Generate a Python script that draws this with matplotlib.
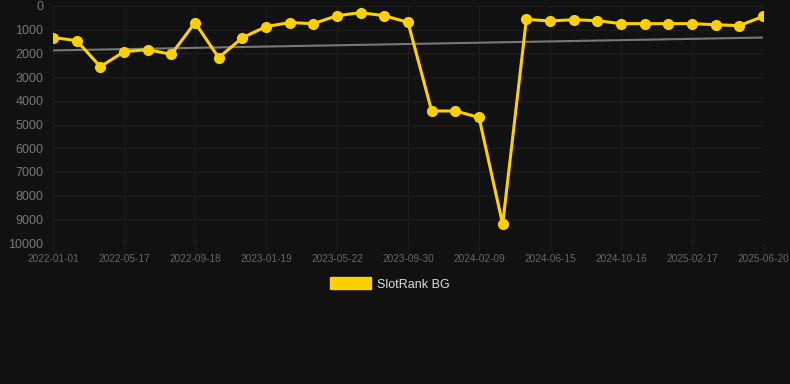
import matplotlib.pyplot as plt
import numpy as np

# rank values, one point per sample (lower is better, axis inverted)
ranks = [1330, 1460, 2560, 1930, 1840, 2040, 700, 2180, 1340, 870,
         700, 745, 410, 280, 410, 690, 4430, 4430, 4700, 9210,
         565, 630, 580, 620, 745, 745, 745, 745, 790, 830, 440]
tick_labels = ["2022-01-01", "2022-05-17", "2022-09-18", "2023-01-19",
               "2023-05-22", "2023-09-30", "2024-02-09", "2024-06-15",
               "2024-10-16", "2025-02-17", "2025-06-20"]
series_name = "SlotRank BG"

bg = "#111111"
gold = "#ffd000"
plt.rcParams["font.family"] = ["Liberation Sans", "DejaVu Sans"]

x = np.arange(len(ranks))
slope, icpt = np.polyfit(x, ranks, 1)

fig = plt.figure(figsize=(7.9, 3.84), dpi=100, facecolor=bg)
ax = fig.add_axes([53 / 790, 1 - 243 / 384, 710 / 790, 237 / 384])
ax.set_facecolor(bg)

ax.plot(x, slope * x + icpt, color="#777777", lw=1.5, zorder=2)
ax.plot(x, ranks, color=gold, lw=2.2, marker="o", ms=7, zorder=3)

ax.set_xlim(0, len(ranks) - 1)
ax.set_ylim(10000, 0)
ax.set_yticks(range(0, 10001, 1000))
ax.set_xticks(x[::3])
ax.set_xticklabels(tick_labels)

ax.grid(True, color="#1d1d1d", lw=0.8)
for s in ax.spines.values():
    s.set_visible(False)
ax.axhline(10000, color="#282828", lw=1, zorder=1)

ax.tick_params(axis="y", length=0, pad=7, labelsize=9, labelcolor="#777777")
ax.tick_params(axis="x", length=5, color="#1d1d1d", pad=3, labelsize=7.2,
               labelcolor="#666666")

handle = plt.Rectangle((0, 0), 1, 1, color=gold)
leg = fig.legend([handle], [series_name], loc="center", bbox_to_anchor=(390 / 790, 1 - 284 / 384),
                 frameon=False, fontsize=9, handlelength=3.3, handleheight=1.1,
                 handletextpad=0.5)
for t in leg.get_texts():
    t.set_color("#dddddd")

fig.savefig("out.png", dpi=100, facecolor=bg)
